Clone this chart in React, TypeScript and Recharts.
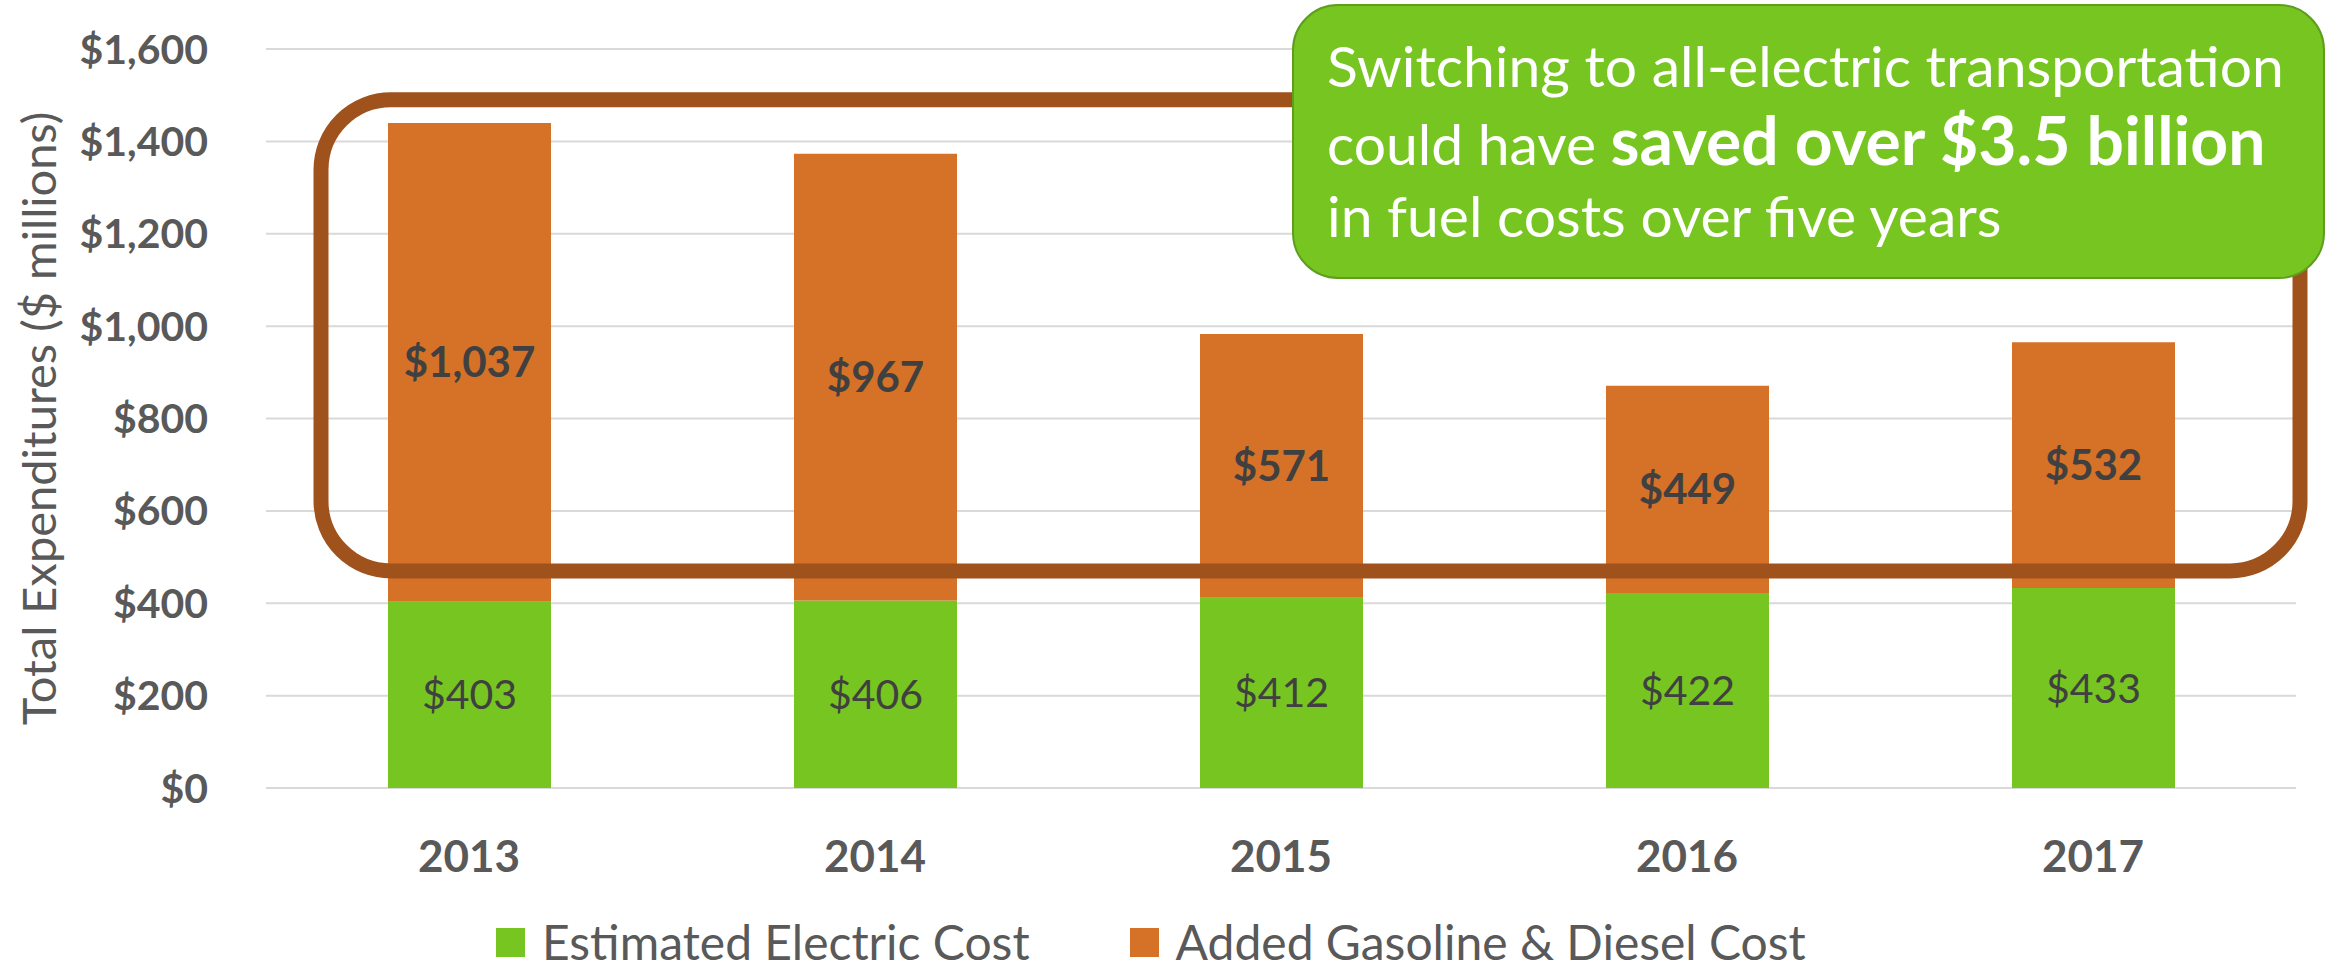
import React from "react";
import {
  BarChart,
  Bar,
  XAxis,
  YAxis,
  CartesianGrid,
  LabelList,
  Legend,
  ReferenceArea,
} from "recharts";

const years = ["2013", "2014", "2015", "2016", "2017"];
const electricCost = [403, 406, 412, 422, 433];
const addedFuelCost = [1037, 967, 571, 449, 532];
const yTicks = [0, 200, 400, 600, 800, 1000, 1200, 1400, 1600];
const legendOrder = ["Estimated Electric Cost", "Added Gasoline & Diesel Cost"];

// highlighted band of the chart (in $ millions)
const boxLow = 470;
const boxHigh = 1490;

const GREEN = "#76C520";
const ORANGE = "#D67128";
const BROWN = "#A0521D";
const AXIS = "#595959";
const LABEL = "#404040";
const FONT = "Lato, 'Open Sans', sans-serif";

const W = 2333;
const H = 966;

const data = years.map((year, i) => ({
  year,
  electric: electricCost[i],
  fuel: addedFuelCost[i],
}));

const money = (v: number) => "$" + Number(v).toLocaleString("en-US");

function LegendContent({ payload }: any) {
  const items = [...(payload || [])].sort(
    (a: any, b: any) => legendOrder.indexOf(a.value) - legendOrder.indexOf(b.value)
  );
  return (
    <div style={{ display: "flex", alignItems: "center", fontFamily: FONT, fontSize: 48, lineHeight: 1, color: AXIS }}>
      {items.map((p: any) => (
        <div key={p.value} style={{ display: "flex", alignItems: "center", marginRight: 100 }}>
          <span style={{ width: 29, height: 29, background: p.color, marginRight: 17, display: "inline-block" }} />
          <span style={{ whiteSpace: "nowrap" }}>{p.value}</span>
        </div>
      ))}
    </div>
  );
}

function Callout() {
  return (
    <svg width={W} height={H} style={{ position: "absolute", left: 0, top: 0, pointerEvents: "none" }}>
      <rect x={1293} y={5} width={1031} height={273} rx={45} fill={GREEN} stroke="#5E9E1C" strokeWidth={2} />
      <g fill="#ffffff" fontFamily={FONT}>
        <text x={1327} y={87} fontSize={57}>Switching to all-electric transportation</text>
        <text x={1327} y={165} fontSize={57}>
          could have <tspan fontWeight="bold" fontSize={66}>saved over $3.5 billion</tspan>
        </text>
        <text x={1327} y={237} fontSize={57}>in fuel costs over five years</text>
      </g>
    </svg>
  );
}

export default function App() {
  return (
    <div style={{ position: "absolute", left: 0, top: 0, width: W, height: H, background: "#fff" }}>
      <BarChart width={W} height={H} data={data} margin={{ top: 49, right: 37, left: 0, bottom: 78 }} barSize={163}>
        <CartesianGrid vertical={false} stroke="#D9D9D9" strokeWidth={2} />
        <XAxis
          dataKey="year"
          axisLine={false}
          tickLine={false}
          height={100}
          tickMargin={47}
          tick={{ fontSize: 44, fontWeight: "bold", fill: AXIS, fontFamily: FONT }}
        />
        <YAxis
          width={266}
          domain={[0, 1600]}
          ticks={yTicks}
          axisLine={false}
          tickLine={false}
          tickMargin={52}
          tickFormatter={money}
          tick={{ fontSize: 41, fontWeight: "bold", fill: AXIS, fontFamily: FONT }}
          label={{
            value: "Total Expenditures ($ millions)",
            angle: -90,
            position: "insideLeft",
            dx: 34,
            style: { fontSize: 47, fill: AXIS, fontFamily: FONT, textAnchor: "middle" },
          }}
        />
        <Legend
          layout="horizontal"
          verticalAlign="middle"
          align="center"
          content={<LegendContent />}
          wrapperStyle={{ left: 496, top: 918, width: "auto" }}
        />
        <Bar dataKey="electric" name="Estimated Electric Cost" stackId="a" fill={GREEN} isAnimationActive={false}>
          <LabelList
            dataKey="electric"
            position="center"
            formatter={(v: any) => money(v)}
            style={{ fontSize: 41, fill: LABEL, fontFamily: FONT }}
          />
        </Bar>
        <Bar dataKey="fuel" name="Added Gasoline & Diesel Cost" stackId="a" fill={ORANGE} isAnimationActive={false}>
          <LabelList
            dataKey="fuel"
            position="center"
            formatter={(v: any) => money(v)}
            style={{ fontSize: 42, fontWeight: "bold", fill: LABEL, fontFamily: FONT }}
          />
        </Bar>
        <ReferenceArea
          x1="2013"
          x2="2017"
          y1={boxLow}
          y2={boxHigh}
          ifOverflow="visible"
          zIndex={1500}
          shape={(p: any) => (
            <rect
              x={p.x + 55}
              y={p.y}
              width={p.width - 51}
              height={p.height}
              rx={70}
              fill="none"
              stroke={BROWN}
              strokeWidth={15}
            />
          )}
        />
      </BarChart>
      <Callout />
    </div>
  );
}
